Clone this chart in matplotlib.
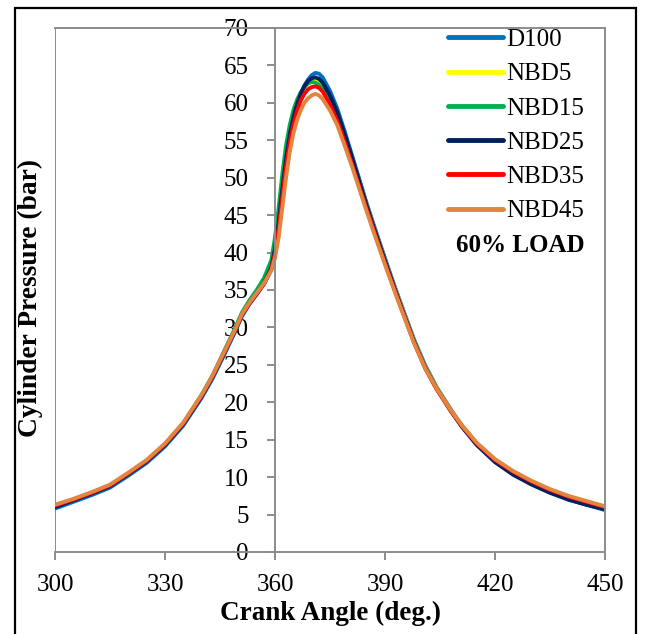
import matplotlib
matplotlib.use("Agg")
import matplotlib.pyplot as plt
from matplotlib.patches import Rectangle

plt.rcParams['font.family'] = ['Liberation Serif', 'DejaVu Serif']

crank_angle = [300, 305, 310, 315, 320, 325, 330, 335, 340, 343, 346, 349, 351, 353, 355, 357, 359,
               360, 361, 362, 363, 364, 365, 366, 367, 368, 369, 370, 371, 372, 373,
               375, 377, 379, 381, 383, 385, 387, 389, 391, 393, 395,
               398, 401, 404, 408, 411, 415, 420, 425, 430, 435, 440, 445, 450]

d100 = [5.8, 6.7, 7.6, 8.6, 10.2, 11.9, 14.1, 16.9, 20.6, 23.2, 26.2, 29.3, 31.5, 33.1, 34.4, 35.8, 37.7,
        39.8, 43.0, 47.5, 51.8, 55.2, 57.8, 59.7, 61.2, 62.3, 63.1, 63.7, 64.0, 63.9, 63.4,
        61.6, 59.2, 56.2, 53.0, 49.8, 46.6, 43.6, 40.7, 37.8, 35.0, 32.3,
        28.3, 24.9, 22.1, 19.0, 16.9, 14.5, 12.2, 10.5, 9.1, 8.0, 7.0, 6.3, 5.6]

nbd5 = [6.2, 7.0, 7.9, 8.9, 10.5, 12.2, 14.4, 17.2, 20.9, 23.5, 26.5, 29.6, 31.8, 33.4, 34.7, 36.1, 38.3,
        40.8, 44.5, 49.0, 53.0, 56.0, 58.2, 59.8, 61.0, 61.9, 62.5, 62.9, 63.0, 62.8, 62.2,
        60.5, 58.3, 55.5, 52.5, 49.4, 46.3, 43.3, 40.4, 37.5, 34.8, 32.1,
        28.1, 24.7, 22.0, 18.9, 16.9, 14.5, 12.3, 10.7, 9.4, 8.3, 7.4, 6.7, 6.0]

nbd15 = [6.2, 7.0, 7.9, 8.9, 10.5, 12.2, 14.4, 17.2, 21.0, 23.6, 26.7, 29.8, 32.0, 33.6, 35.0, 36.6, 39.0,
         42.0, 46.0, 50.5, 54.3, 57.0, 59.0, 60.4, 61.4, 62.1, 62.6, 62.8, 62.7, 62.4, 61.8,
         60.2, 58.0, 55.2, 52.2, 49.1, 46.0, 43.0, 40.1, 37.3, 34.6, 31.9,
         28.0, 24.6, 21.9, 18.9, 16.8, 14.5, 12.3, 10.6, 9.3, 8.3, 7.4, 6.7, 6.0]

nbd25 = [6.0, 6.9, 7.8, 8.8, 10.4, 12.1, 14.3, 17.1, 20.8, 23.4, 26.4, 29.5, 31.7, 33.2, 34.5, 35.9, 38.0,
         40.5, 44.0, 48.5, 52.5, 55.7, 58.0, 59.8, 61.2, 62.2, 62.9, 63.3, 63.4, 63.2, 62.7,
         61.0, 58.7, 55.8, 52.7, 49.5, 46.3, 43.3, 40.4, 37.5, 34.7, 32.0,
         28.0, 24.6, 21.9, 18.8, 16.7, 14.3, 12.0, 10.3, 9.0, 7.9, 7.0, 6.3, 5.7]

nbd35 = [6.2, 7.0, 7.9, 8.9, 10.5, 12.2, 14.4, 17.2, 20.9, 23.5, 26.5, 29.5, 31.7, 33.2, 34.5, 35.8, 37.8,
         40.0, 43.2, 47.5, 51.5, 54.7, 57.1, 58.9, 60.3, 61.2, 61.8, 62.1, 62.2, 62.0, 61.5,
         59.8, 57.6, 54.8, 51.8, 48.8, 45.8, 42.9, 40.0, 37.2, 34.5, 31.8,
         27.9, 24.5, 21.8, 18.8, 16.8, 14.5, 12.3, 10.7, 9.4, 8.3, 7.4, 6.7, 6.0]

nbd45 = [6.3, 7.1, 8.0, 9.0, 10.6, 12.3, 14.5, 17.3, 21.0, 23.6, 26.6, 29.6, 31.8, 33.3, 34.6, 35.9, 37.6,
         39.3, 42.0, 46.0, 50.0, 53.4, 55.9, 57.7, 59.0, 60.0, 60.6, 61.0, 61.2, 61.0, 60.5,
         59.0, 57.0, 54.3, 51.5, 48.5, 45.5, 42.6, 39.8, 37.0, 34.3, 31.7,
         27.8, 24.5, 21.9, 18.9, 16.9, 14.6, 12.4, 10.8, 9.5, 8.4, 7.5, 6.8, 6.1]

series_labels = ['D100', 'NBD5', 'NBD15', 'NBD25', 'NBD35', 'NBD45']
series_values = [d100, nbd5, nbd15, nbd25, nbd35, nbd45]
series_colors = ['#0070C0', '#FFFF00', '#00B050', '#002060', '#FF0000', '#E3843F']

x_ticks = [300, 330, 360, 390, 420, 450]
y_ticks = list(range(0, 75, 5))

fig = plt.figure(figsize=(6.46, 6.34), dpi=100)
fig.patches.append(Rectangle((15 / 646, -0.05), (636 - 15) / 646, 1.05 - 8 / 634,
                             transform=fig.transFigure, fill=False, edgecolor='black',
                             linewidth=1.6, zorder=0))

ax = fig.add_axes([55 / 646, 1 - 552 / 634, 550 / 646, 524 / 634])

for lab, vals, col in zip(series_labels, series_values, series_colors):
    ax.plot(crank_angle, vals, color=col, linewidth=2.8, label=lab, solid_capstyle='round')

gray = '#8C8C8C'
ax.set_xlim(300, 450)
ax.set_ylim(0, 70)
ax.spines['left'].set_position(('data', 360))
for s in ax.spines.values():
    s.set_color(gray)
    s.set_linewidth(1.4)
ax.axvline(300, color=gray, linewidth=1.4, zorder=0)

ax.set_xticks(x_ticks)
ax.set_yticks(y_ticks)
ax.tick_params(axis='both', direction='out', length=6, width=1.4, color=gray,
               labelsize=18, labelcolor='black')
ax.tick_params(axis='x', pad=10)
ax.tick_params(axis='y', pad=13)

fig.text(330 / 646, 1 - 613 / 634, 'Crank Angle (deg.)', fontsize=19.5, fontweight='bold',
         ha='center', va='center')
fig.text(30 / 646, 1 - 298 / 634, 'Cylinder Pressure (bar)', rotation=90, fontsize=19.8,
         fontweight='bold', ha='center', va='center')

leg = ax.legend(loc='upper left', bbox_to_anchor=(0.715, 0.999), frameon=False, fontsize=18,
                handlelength=2.2, handletextpad=0.1, labelspacing=0.47, borderpad=0,
                borderaxespad=0)
for h in leg.get_lines():
    h.set_linewidth(3.5)

ax.text(0.73, 0.585, '60% LOAD', transform=ax.transAxes, fontsize=18, fontweight='bold',
        ha='left', va='center')

fig.savefig('out.png', dpi=100)
